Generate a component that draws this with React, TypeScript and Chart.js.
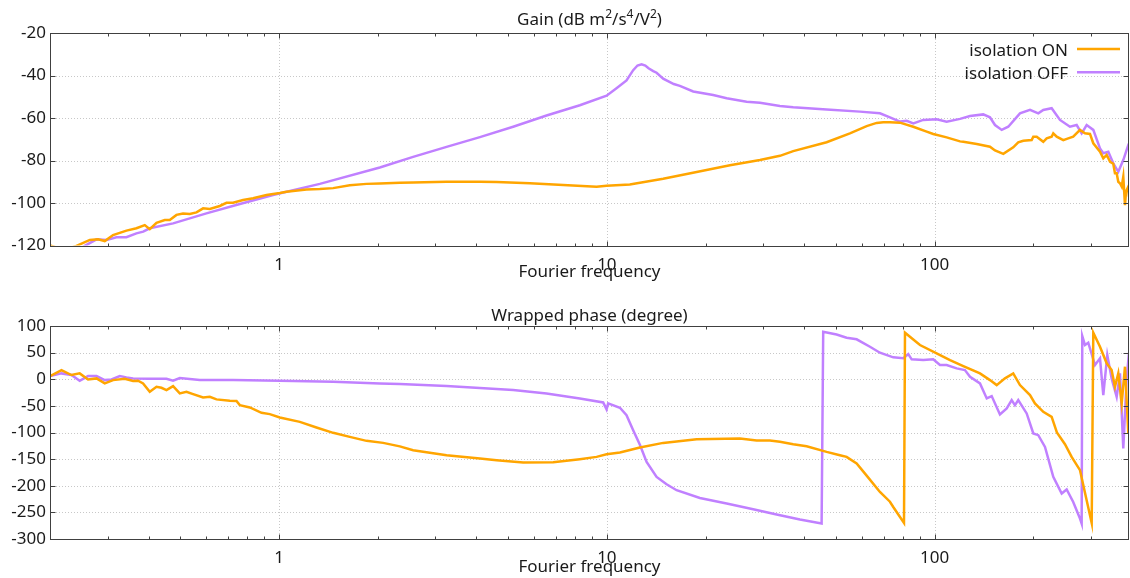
import React, { useEffect, useRef } from 'react';
import { Chart, registerables } from 'chart.js';

Chart.register(...registerables);

const FONT = "'Noto Sans', sans-serif";
const TEXT = '#1a1a1a';
const ORANGE = '#ffa500';
const PURPLE = '#c080ff';

const xTicks = [1, 10, 100];
const gainTicks = [-120, -100, -80, -60, -40, -20];
const phaseTicks = [-300, -250, -200, -150, -100, -50, 0, 50, 100];

// Title pieces: [text, isSuperscript]
const gainTitle: [string, boolean][] = [['Gain (dB m', false], ['2', true], ['/s', false], ['4', true], ['/V', false], ['2', true], [')', false]];
const phaseTitle: [string, boolean][] = [['Wrapped phase (degree)', false]];

// Gain, isolation ON
const gainOnF = [0.2, 0.215, 0.232, 0.24, 0.2645, 0.2804, 0.2938, 0.3115, 0.3422, 0.3671, 0.3892, 0.4031, 0.4226, 0.4479, 0.4639, 0.4863, 0.5093, 0.534, 0.5597, 0.5863, 0.6146, 0.6592, 0.691, 0.7236, 0.7764, 0.8331, 0.9153, 1.005, 1.053, 1.212, 1.331, 1.462, 1.643, 1.848, 2.029, 2.335, 2.564, 3.243, 4.099, 4.608, 5.821, 7.357, 9.302, 9.98, 11.75, 14.85, 18.79, 23.74, 29.31, 33.73, 37.03, 46.82, 55.14, 62.02, 66.53, 69.69, 73.05, 78.38, 86.06, 94.54, 99.02, 108.8, 119.5, 122.3, 134.4, 147.5, 152.8, 162, 173.7, 179.9, 186.4, 197.7, 200, 204.8, 214.5, 219.7, 227.5, 230.1, 235.7, 246.9, 255.6, 264.7, 277.6, 287.5, 297.8, 304.8, 319.5, 327, 334.9, 343, 350.7, 354.9, 359.2, 363.3, 367.6, 372.1, 376.3, 380.8, 383.5, 385.4, 389.8, 391.7];
const gainOnDb = [-120.0, -121.5, -121.0, -120.3, -117.4, -117.1, -117.9, -115.1, -113.0, -111.9, -110.4, -112.3, -109.3, -108.0, -108.0, -105.6, -104.9, -105.2, -104.4, -102.5, -102.8, -101.4, -99.9, -99.9, -98.6, -97.8, -96.2, -95.3, -94.7, -93.6, -93.4, -93.0, -91.7, -91.0, -90.8, -90.5, -90.3, -90.0, -90.0, -90.1, -90.7, -91.5, -92.3, -91.9, -91.3, -88.6, -85.4, -82.2, -79.8, -77.8, -75.6, -71.4, -67.2, -63.8, -62.3, -62.0, -62.0, -62.2, -64.1, -66.4, -67.5, -69.1, -71.0, -71.2, -72.2, -73.5, -75.3, -76.9, -73.8, -71.5, -70.7, -70.4, -68.8, -68.8, -71.2, -69.6, -68.8, -67.2, -68.8, -70.4, -69.6, -68.8, -65.6, -67.2, -67.5, -71.9, -75.9, -79.0, -77.4, -80.6, -81.5, -86.0, -86.0, -90.0, -90.7, -92.3, -87.6, -101.0, -95.0, -93.9, -92.3, -97.0];

// Gain, isolation OFF
const gainOffF = [0.24, 0.2553, 0.2773, 0.2974, 0.319, 0.342, 0.367, 0.385, 0.403, 0.475, 0.6, 0.759, 0.958, 1.331, 2.029, 2.564, 3.243, 4.099, 5.177, 6.546, 8.27, 9.98, 10.7, 11.48, 12.03, 12.4, 12.76, 13.1, 13.4, 13.85, 14.18, 14.85, 16.0, 16.7, 18.34, 21.1, 23.2, 26.69, 29.31, 33.73, 37.03, 46.82, 59.17, 68.09, 73.05, 78.38, 82.17, 86.06, 92.32, 101.4, 108.8, 119.5, 128.2, 140.7, 147.5, 152.8, 160.2, 167.7, 182.1, 195.4, 207.1, 214.5, 227.5, 241.2, 258.7, 271.2, 280.9, 290.9, 304.8, 319.5, 327, 338.7, 350.7, 363.3, 376.3, 389.8, 391.7];
const gainOffDb = [-123.0, -120.2, -117.1, -117.4, -116.1, -116.1, -114.3, -113.5, -111.9, -109.6, -104.9, -100.5, -96.2, -91.0, -83.3, -78.3, -73.6, -69.0, -64.1, -58.8, -54.0, -49.5, -46.0, -42.3, -37.5, -35.3, -34.7, -35.3, -36.6, -37.9, -38.7, -41.5, -44.0, -44.9, -47.5, -49.2, -50.7, -52.3, -52.8, -54.3, -54.9, -56.0, -57.0, -57.8, -59.7, -61.7, -61.3, -62.5, -60.9, -60.6, -61.7, -60.4, -59.1, -58.3, -59.7, -63.3, -65.6, -64.1, -57.8, -56.2, -57.8, -56.2, -55.4, -60.9, -64.1, -63.3, -67.2, -63.3, -65.6, -74.3, -76.6, -75.9, -81.3, -85.3, -79.8, -72.7, -72.0];

// Wrapped phase, isolation ON
const phaseOnF = [0.2, 0.2168, 0.2325, 0.2464, 0.2613, 0.2773, 0.2938, 0.3115, 0.3381, 0.3585, 0.3713, 0.3846, 0.4031, 0.4226, 0.4376, 0.4533, 0.4748, 0.4977, 0.5217, 0.5465, 0.5863, 0.6146, 0.6441, 0.7073, 0.7413, 0.7587, 0.8141, 0.8838, 0.9367, 1.005, 1.157, 1.3, 1.462, 1.643, 1.848, 2.077, 2.335, 2.564, 3.243, 4.099, 4.608, 5.555, 6.858, 8.27, 9.302, 9.98, 10.96, 12.61, 14.85, 18.79, 25.46, 28.63, 31.43, 33.73, 37.03, 40.68, 46.82, 51.4, 53.88, 57.81, 62.02, 68.09, 73.05, 74.77, 80.63, 81.19, 90.2, 101.4, 111.4, 122.3, 137.5, 147.5, 154.6, 163.9, 173.7, 182.1, 195.4, 202.3, 214.5, 227.5, 236.0, 249.8, 261.8, 277.6, 290.9, 301.4, 304.8, 319.5, 334.9, 346.7, 354.9, 363.3, 372.1, 380.8, 389.8, 391.7];
const phaseOnDeg = [6.0, 17.3, 7.9, 11.0, -0.3, 1.6, -7.8, -1.6, 0.9, -3.4, -2.8, -7.8, -23.5, -14.1, -16.0, -20.4, -12.8, -26.6, -23.5, -27.9, -34.1, -33.0, -37.8, -40.4, -41.0, -48.6, -52.9, -63.0, -65.5, -71.7, -80.0, -90.5, -100.6, -108.2, -115.7, -119.5, -126.0, -133.2, -142.6, -148.8, -152.0, -156.5, -156.0, -150.1, -145.8, -141.0, -137.5, -128.2, -119.5, -112.5, -111.2, -115.0, -115.2, -117.5, -121.9, -125.7, -136.4, -142.6, -145.8, -158.2, -181.0, -211.6, -230.0, -239.8, -270.0, 87.4, 64.3, 48.6, 36.1, 24.8, 11.0, -1.6, -11.0, 1.6, 11.0, -11.0, -29.8, -45.4, -61.2, -70.6, -100.0, -122.0, -145.8, -170.8, -227.2, -270.0, 87.4, 61.1, 29.9, 17.3, -14.1, 11.0, -45.4, 23.5, -101.8, -60.0];

// Wrapped phase, isolation OFF
const phaseOffF = [0.2, 0.2168, 0.2325, 0.2464, 0.2613, 0.2773, 0.2938, 0.3081, 0.3265, 0.3422, 0.3585, 0.4031, 0.4533, 0.4748, 0.4977, 0.5728, 0.7236, 1.005, 1.462, 2.029, 2.335, 3.243, 5.177, 6.546, 8.27, 9.743, 9.98, 10.09, 10.96, 11.48, 12.03, 12.61, 13.22, 14.18, 15.21, 16.32, 19.22, 23.2, 27.95, 32.95, 38.81, 45.2, 45.71, 50.22, 53.88, 57.81, 63.48, 68.09, 74.77, 80.23, 83.09, 85.1, 92.32, 99.02, 103.8, 108.8, 116.7, 123.7, 128.2, 137.5, 144.2, 149.3, 158.2, 165.9, 171.8, 175.8, 179.9, 190.9, 200, 207.1, 217.1, 230.1, 244.1, 252.8, 264.7, 277.6, 280.9, 282.1, 287.5, 294.2, 308.5, 319.5, 327, 336.3, 346.7, 359.2, 367.6, 376.3, 385.4, 391.7];
const phaseOffDeg = [6.0, 11.0, 7.9, -2.8, 6.0, 6.0, -1.6, -0.3, 6.0, 3.5, 1.6, 0.9, 0.9, -2.8, 2.2, -1.6, -1.6, -2.8, -4.7, -7.8, -9.1, -12.8, -20.4, -26.6, -36.0, -43.5, -56.6, -45.4, -53.5, -67.4, -95.6, -123.0, -155.2, -183.4, -197.1, -208.4, -223.0, -233.4, -244.0, -254.1, -263.5, -271.0, 89.3, 84.0, 78.0, 75.0, 61.1, 49.8, 41.1, 39.3, 47.3, 37.4, 36.1, 37.4, 26.7, 26.7, 20.4, 17.3, 4.7, -7.8, -36.0, -31.6, -66.1, -54.8, -39.2, -48.6, -39.2, -64.2, -101.8, -105.0, -127.0, -183.4, -214.6, -207.1, -230.4, -261.6, -271.0, 81.2, 64.3, 68.6, 26.7, 39.3, -29.8, 45.5, 1.6, -33.0, 11.0, -130.0, 1.6, 50.0];

const pts = (f: number[], v: number[]) => f.map((x, i) => ({ x, y: v[i] }));

type Cfg = {
  seriesOn: { x: number; y: number }[];
  seriesOff: { x: number; y: number }[];
  yMin: number;
  yMax: number;
  yTicks: number[];
  xAxisH: number;
  title: [string, boolean][];
  titleY: number;
  xLabelY: number;
  legend: boolean;
};

function drawRichCentered(ctx: CanvasRenderingContext2D, parts: [string, boolean][], cx: number, y: number) {
  const base = `17px ${FONT}`;
  const sup = `12px ${FONT}`;
  let total = 0;
  const widths = parts.map(([s, isSup]) => {
    ctx.font = isSup ? sup : base;
    const w = ctx.measureText(s).width;
    total += w;
    return w;
  });
  let x = cx - total / 2;
  ctx.textAlign = 'left';
  parts.forEach(([s, isSup], i) => {
    ctx.font = isSup ? sup : base;
    ctx.fillText(s, x, isSup ? y - 7 : y);
    x += widths[i];
  });
}

function decor(cfg: Cfg) {
  return {
    id: 'decor',
    beforeDatasetsDraw(chart: any) {
      const { ctx, chartArea: a, scales } = chart;
      ctx.save();
      ctx.strokeStyle = '#c8c8c8';
      ctx.lineWidth = 1;
      ctx.setLineDash([1, 2]);
      for (const v of xTicks) {
        const px = Math.round(scales.x.getPixelForValue(v)) + 0.5;
        ctx.beginPath();
        ctx.moveTo(px, a.top);
        ctx.lineTo(px, a.bottom);
        ctx.stroke();
      }
      for (const v of cfg.yTicks) {
        const py = Math.round(scales.y.getPixelForValue(v)) + 0.5;
        ctx.beginPath();
        ctx.moveTo(a.left, py);
        ctx.lineTo(a.right, py);
        ctx.stroke();
      }
      ctx.restore();
    },
    afterDatasetsDraw(chart: any) {
      const { ctx, chartArea: a, scales } = chart;
      ctx.save();
      ctx.strokeStyle = '#404040';
      ctx.lineWidth = 1;
      ctx.setLineDash([]);
      const l = Math.round(a.left) + 0.5;
      const r = Math.round(a.right) - 0.5;
      const t = Math.round(a.top) + 0.5;
      const b = Math.round(a.bottom) + 0.5;
      ctx.strokeRect(l, t, r - l, b - t);
      ctx.beginPath();
      const xs = scales.x;
      for (let d = -1; d <= 2; d++) {
        for (let m = 1; m <= 9; m++) {
          const v = m * Math.pow(10, d);
          if (v < xs.min || v > xs.max) continue;
          const px = Math.round(xs.getPixelForValue(v)) + 0.5;
          const len = m === 1 ? 5 : 3;
          ctx.moveTo(px, b);
          ctx.lineTo(px, b - len);
          ctx.moveTo(px, t);
          ctx.lineTo(px, t + len);
        }
      }
      for (const v of cfg.yTicks) {
        const py = Math.round(scales.y.getPixelForValue(v)) + 0.5;
        ctx.moveTo(l, py);
        ctx.lineTo(l + 5, py);
        ctx.moveTo(r, py);
        ctx.lineTo(r - 5, py);
      }
      ctx.stroke();
      ctx.restore();
    },
    afterDraw(chart: any) {
      const { ctx, chartArea: a, data } = chart;
      ctx.save();
      ctx.fillStyle = TEXT;
      ctx.textBaseline = 'alphabetic';
      const cx = (a.left + a.right) / 2;
      drawRichCentered(ctx, cfg.title, cx, cfg.titleY);
      ctx.font = `17px ${FONT}`;
      ctx.textAlign = 'center';
      ctx.fillText('Fourier frequency', cx, cfg.xLabelY);
      if (cfg.legend) {
        ctx.textAlign = 'right';
        const rows = [55.7, 79];
        const lines = [49, 72.3];
        data.datasets.forEach((ds: any, i: number) => {
          ctx.fillStyle = TEXT;
          ctx.fillText(ds.label, 1068, rows[i]);
          ctx.strokeStyle = ds.borderColor;
          ctx.lineWidth = 2.5;
          ctx.beginPath();
          ctx.moveTo(1077, lines[i]);
          ctx.lineTo(1120, lines[i]);
          ctx.stroke();
        });
      }
      ctx.restore();
    },
  };
}

function makeConfig(cfg: Cfg): any {
  const tickFont = { family: FONT, size: 17 };
  return {
    type: 'line',
    data: {
      datasets: [
        { label: 'isolation ON', data: cfg.seriesOn, borderColor: ORANGE, backgroundColor: ORANGE, borderWidth: 2.5, pointRadius: 0, tension: 0, fill: false },
        { label: 'isolation OFF', data: cfg.seriesOff, borderColor: PURPLE, backgroundColor: PURPLE, borderWidth: 2.5, pointRadius: 0, tension: 0, fill: false },
      ],
    },
    options: {
      animation: false,
      responsive: false,
      devicePixelRatio: 1,
      layout: { padding: { top: 33, right: 1, left: 0, bottom: 0 } },
      plugins: { legend: { display: false }, tooltip: { enabled: false }, title: { display: false } },
      scales: {
        x: {
          type: 'logarithmic',
          min: 0.2,
          max: 391.7,
          grid: { display: false },
          border: { display: false },
          afterBuildTicks: (s: any) => { s.ticks = xTicks.map((v) => ({ value: v })); },
          afterFit: (s: any) => { s.height = cfg.xAxisH; },
          ticks: { callback: (v: any) => String(v), font: tickFont, color: TEXT, padding: 1, maxRotation: 0, autoSkip: false },
        },
        y: {
          type: 'linear',
          min: cfg.yMin,
          max: cfg.yMax,
          grid: { display: false, drawTicks: false, tickLength: 0 },
          border: { display: false },
          afterBuildTicks: (s: any) => { s.ticks = cfg.yTicks.map((v) => ({ value: v })); },
          afterFit: (s: any) => { s.width = 50; },
          ticks: { callback: (v: any) => String(v), font: tickFont, color: TEXT, padding: 4, autoSkip: false },
        },
      },
    },
    plugins: [decor(cfg)],
  };
}

export default function App() {
  const topRef = useRef<HTMLCanvasElement>(null);
  const botRef = useRef<HTMLCanvasElement>(null);
  useEffect(() => {
    const c1 = new Chart(topRef.current as HTMLCanvasElement, makeConfig({
      seriesOn: pts(gainOnF, gainOnDb),
      seriesOff: pts(gainOffF, gainOffDb),
      yMin: -120, yMax: -20, yTicks: gainTicks,
      xAxisH: 47.5,
      title: gainTitle, titleY: 25, xLabelY: 277,
      legend: true,
    }));
    const c2 = new Chart(botRef.current as HTMLCanvasElement, makeConfig({
      seriesOn: pts(phaseOnF, phaseOnDeg),
      seriesOff: pts(phaseOffF, phaseOffDeg),
      yMin: -300, yMax: 100, yTicks: phaseTicks,
      xAxisH: 39,
      title: phaseTitle, titleY: 27.7, xLabelY: 279,
      legend: false,
    }));
    return () => { c1.destroy(); c2.destroy(); };
  }, []);
  return (
    <div style={{ position: 'absolute', left: 0, top: 0, width: 1130, height: 578, background: '#ffffff' }}>
      <canvas ref={topRef} width={1130} height={293} style={{ display: 'block', width: 1130, height: 293 }} />
      <canvas ref={botRef} width={1130} height={285} style={{ display: 'block', width: 1130, height: 285 }} />
    </div>
  );
}
